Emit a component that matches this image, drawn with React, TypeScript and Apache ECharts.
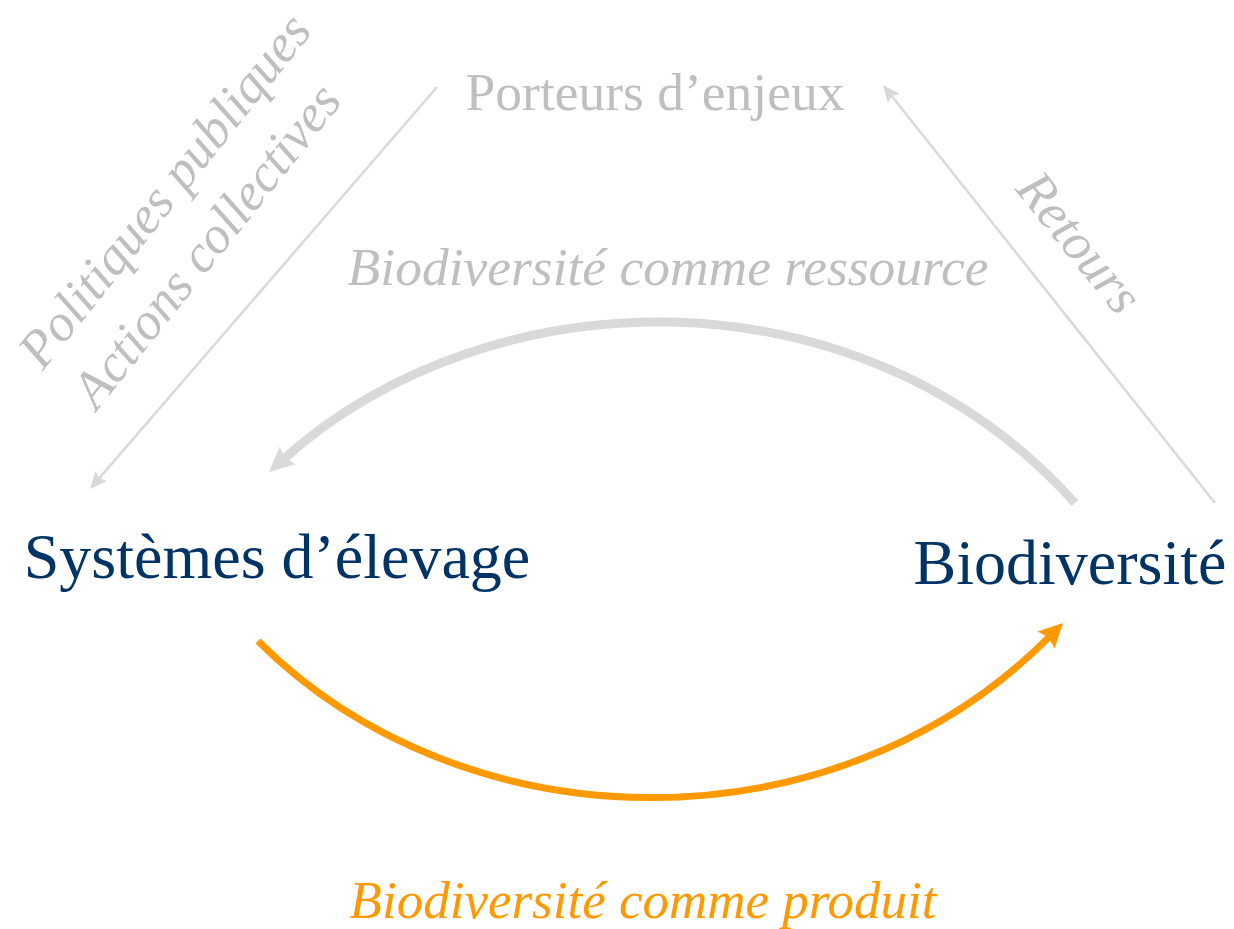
import React, { useEffect, useRef } from "react";
import * as echarts from "echarts";

const W = 1234;
const H = 929;
const GRAY_TEXT = "#BFBFBF";
const GRAY_LINE = "#D9D9D9";
const NAVY = "#003366";
const ORANGE = "#FF9900";
const FONT = '"Liberation Serif", "Times New Roman", serif';

// Nodes of the diagram
const nodeLabels = ["Systèmes d’élevage", "Biodiversité", "Porteurs d’enjeux"];
const nodePos: number[][] = [[277, 556], [1070, 562], [655, 92]];
const nodeColors = [NAVY, NAVY, GRAY_TEXT];
const nodeSizes = [64, 64, 53.5];

// Flow labels (italic)
const flowLabels = ["Biodiversité comme ressource", "Biodiversité comme produit"];
const flowLabelPos: number[][] = [[668, 267], [643, 900]];
const flowColors = [GRAY_TEXT, ORANGE];
const flowSizes = [53.5, 53];

// Side labels (rotated, italic)
const sideLabels = ["Politiques publiques", "Actions collectives", "Retours"];
const sideLabelPos: number[][] = [[164, 190], [206, 245], [1080, 242]];
const sideLabelAngle = [51.5, 51.5, -51];

// Straight arrows: [start, tip]
const straightArrows: number[][][] = [
  [[437, 87], [90, 489]],
  [[1215, 503], [883, 85]],
];

// Curved arrows: [start, cp1, cp2, tip]
const curvedArrows: number[][][] = [
  [[1075, 503], [862, 266], [492, 273], [269, 472]],
  [[258, 641], [462, 845], [831, 856], [1063, 623]],
];
const curvedColors = [GRAY_LINE, ORANGE];
const curvedWidths = [9, 7];
const curvedHead = [[25, 12], [24, 12]];

function arrowHead(tip: number[], from: number[], len: number, half: number, color: string) {
  const dx = tip[0] - from[0];
  const dy = tip[1] - from[1];
  const d = Math.sqrt(dx * dx + dy * dy);
  const ux = dx / d;
  const uy = dy / d;
  const bx = tip[0] - ux * len;
  const by = tip[1] - uy * len;
  const px = -uy;
  const py = ux;
  const nx = tip[0] - ux * len * 0.85;
  const ny = tip[1] - uy * len * 0.85;
  return {
    type: "polygon",
    shape: {
      points: [
        [tip[0], tip[1]],
        [bx + px * half, by + py * half],
        [nx, ny],
        [bx - px * half, by - py * half],
      ],
    },
    style: { fill: color },
    silent: true,
  };
}

function shorten(tip: number[], from: number[], amount: number) {
  const dx = tip[0] - from[0];
  const dy = tip[1] - from[1];
  const d = Math.sqrt(dx * dx + dy * dy);
  return [tip[0] - (dx / d) * amount, tip[1] - (dy / d) * amount];
}

function textEl(text: string, x: number, y: number, color: string, size: number, italic: boolean, rotDeg = 0) {
  return {
    type: "text",
    x,
    y,
    rotation: (rotDeg * Math.PI) / 180,
    silent: true,
    style: {
      text,
      fill: color,
      fontSize: size,
      fontFamily: FONT,
      fontStyle: italic ? "italic" : "normal",
      align: "center",
      verticalAlign: "middle",
      textAlign: "center",
      textVerticalAlign: "middle",
    },
  };
}

export default function App() {
  const ref = useRef<HTMLDivElement>(null);
  useEffect(() => {
    if (!ref.current) return;
    const chart = echarts.init(ref.current, null, { renderer: "svg" });
    const elements: any[] = [];

    straightArrows.forEach(([from, tip]) => {
      const end = shorten(tip, from, 13);
      elements.push({
        type: "line",
        shape: { x1: from[0], y1: from[1], x2: end[0], y2: end[1] },
        style: { stroke: GRAY_LINE, lineWidth: 2.5 },
        silent: true,
      });
      elements.push(arrowHead(tip, from, 17, 7.5, GRAY_LINE));
    });

    curvedArrows.forEach(([p0, c1, c2, tip], i) => {
      const [len, half] = curvedHead[i];
      const end = shorten(tip, c2, len * 0.8);
      elements.push({
        type: "bezierCurve",
        shape: {
          x1: p0[0], y1: p0[1],
          cpx1: c1[0], cpy1: c1[1],
          cpx2: c2[0], cpy2: c2[1],
          x2: end[0], y2: end[1],
        },
        style: { stroke: curvedColors[i], lineWidth: curvedWidths[i], fill: null },
        silent: true,
      });
      elements.push(arrowHead(tip, c2, len, half, curvedColors[i]));
    });

    nodeLabels.forEach((t, i) => {
      elements.push(textEl(t, nodePos[i][0], nodePos[i][1], nodeColors[i], nodeSizes[i], false));
    });
    flowLabels.forEach((t, i) => {
      elements.push(textEl(t, flowLabelPos[i][0], flowLabelPos[i][1], flowColors[i], flowSizes[i], true));
    });
    sideLabels.forEach((t, i) => {
      elements.push(textEl(t, sideLabelPos[i][0], sideLabelPos[i][1], GRAY_TEXT, 53, true, sideLabelAngle[i]));
    });

    chart.setOption({
      animation: false,
      backgroundColor: "#FFFFFF",
      graphic: { elements },
    });
    return () => chart.dispose();
  }, []);
  return (
    <div
      ref={ref}
      style={{ position: "absolute", left: 0, top: 0, width: W, height: H, background: "#fff" }}
    />
  );
}
